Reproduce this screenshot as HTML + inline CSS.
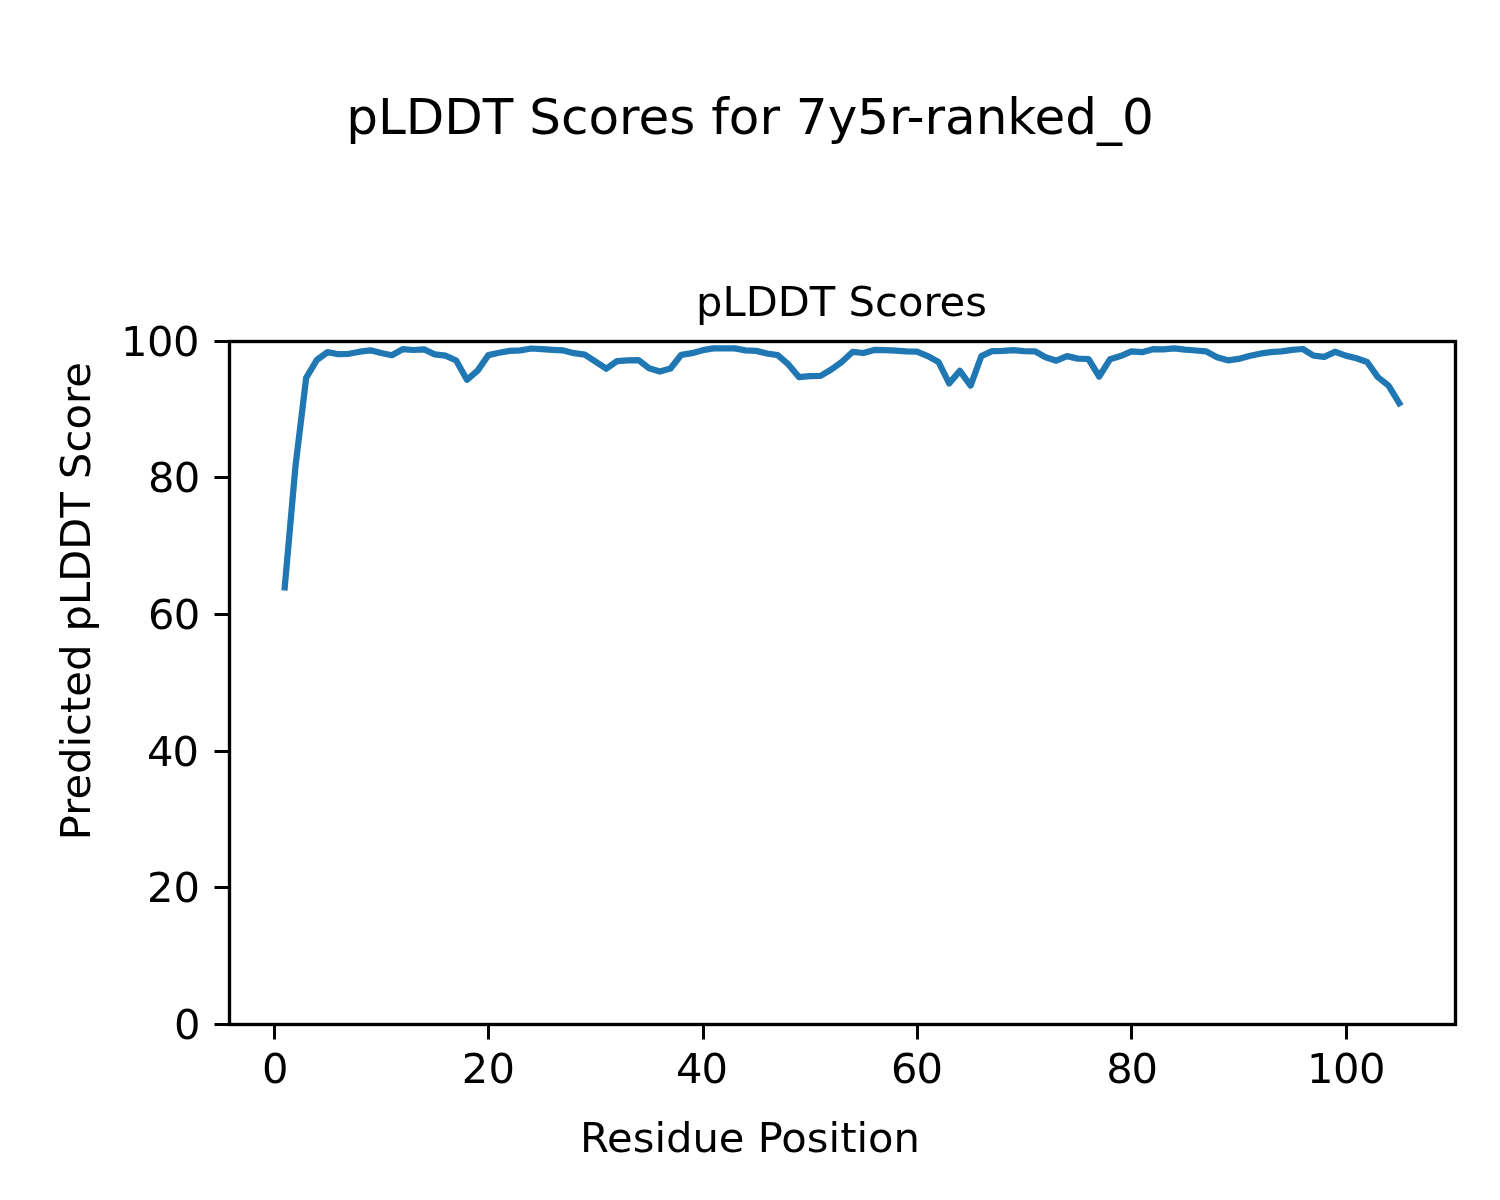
<!DOCTYPE html>
<html lang="en">
<head>
<meta charset="utf-8">
<title>pLDDT Scores for 7y5r-ranked_0</title>
<style>
html,body{margin:0;padding:0;background:#fff;}
body{width:1500px;height:1200px;overflow:hidden;}
svg{display:block;}
svg text{font-family:"DejaVu Sans","Liberation Sans",sans-serif;fill:#000;}
</style>
</head>
<body>
<svg width="1500" height="1200" viewBox="0 0 1500 1200">
<rect x="0" y="0" width="1500" height="1200" fill="#ffffff"/>
<polyline points="284.73,587.40 295.44,466.60 306.16,377.90 316.88,359.90 327.59,352.10 338.31,354.20 349.03,353.80 359.74,351.70 370.46,350.30 381.18,353.00 391.90,355.20 402.61,349.20 413.33,350.00 424.05,349.40 434.76,354.40 445.48,355.70 456.20,360.50 466.91,379.80 477.63,370.60 488.35,355.10 499.06,352.80 509.78,350.80 520.50,350.30 531.21,348.50 541.93,349.20 552.65,349.80 563.36,350.40 574.08,353.20 584.80,354.60 595.51,361.60 606.23,368.70 616.95,361.10 627.66,360.40 638.38,360.10 649.10,368.30 659.81,371.50 670.53,368.50 681.25,354.80 691.97,353.20 702.68,350.20 713.40,348.40 724.12,348.40 734.83,348.40 745.55,350.30 756.27,350.90 766.98,353.50 777.70,355.10 788.42,364.40 799.13,377.20 809.85,376.10 820.57,375.90 831.28,369.50 842.00,361.70 852.72,351.80 863.43,353.00 874.15,349.90 884.87,350.20 895.58,350.60 906.30,351.30 917.02,351.60 927.73,356.10 938.45,361.90 949.17,383.40 959.88,370.90 970.60,385.60 981.32,356.20 992.03,351.20 1002.75,350.90 1013.47,350.10 1024.19,351.20 1034.90,351.30 1045.62,357.20 1056.34,360.70 1067.05,356.10 1077.77,358.60 1088.49,359.00 1099.20,376.50 1109.92,359.30 1120.64,356.10 1131.35,351.30 1142.07,352.20 1152.79,349.20 1163.50,349.40 1174.22,348.30 1184.94,349.60 1195.65,350.50 1206.37,351.40 1217.09,357.20 1227.80,360.30 1238.52,358.90 1249.24,356.00 1259.95,353.70 1270.67,352.10 1281.39,351.40 1292.10,349.90 1302.82,349.00 1313.54,355.70 1324.26,356.80 1334.97,351.80 1345.69,355.60 1356.41,358.20 1367.12,362.00 1377.84,377.10 1388.56,385.60 1399.27,403.20" fill="none" stroke="#1f77b4" stroke-width="6.25" stroke-linejoin="round" stroke-linecap="square"/>
<path d="M274.50,1024.50v15.00M488.50,1024.50v15.00M703.50,1024.50v15.00M917.50,1024.50v15.00M1131.50,1024.50v15.00M1346.50,1024.50v15.00M229.50,1024.50h-15.00M229.50,887.50h-15.00M229.50,751.50h-15.00M229.50,614.50h-15.00M229.50,477.50h-15.00M229.50,341.50h-15.00" stroke="#000" stroke-width="3" fill="none"/>
<rect x="229.5" y="341.5" width="1226.0" height="683.0" fill="none" stroke="#000" stroke-width="3.333" stroke-linejoin="miter"/>
<text x="262.00" y="1083.1" font-size="41.667">0</text>
<text x="461.84 488.54" y="1083.1" font-size="41.667">20</text>
<text x="675.97 701.57" y="1083.1" font-size="41.667">40</text>
<text x="891.01 916.51" y="1083.1" font-size="41.667">60</text>
<text x="1106.14 1131.54" y="1083.1" font-size="41.667">80</text>
<text x="1306.88 1332.88 1358.88" y="1083.1" font-size="41.667">100</text>
<text x="174.05" y="1039.0" font-size="41.667">0</text>
<text x="146.98 173.58" y="902.4" font-size="41.667">20</text>
<text x="146.98 172.48" y="765.8" font-size="41.667">40</text>
<text x="147.98 173.65" y="629.2" font-size="41.667">60</text>
<text x="147.98 173.65" y="491.6" font-size="41.667">80</text>
<text x="120.98 146.98 172.98" y="356.0" font-size="41.667">100</text>
<text x="750" y="1152.2" text-anchor="middle" font-size="41.667">Residue Position</text>
<text transform="translate(89.5,601.2) rotate(-90)" text-anchor="middle" font-size="41.667">Predicted pLDDT Score</text>
<text x="841.50" y="316" text-anchor="middle" font-size="41.667">pLDDT Scores</text>
<text x="750" y="133.6" text-anchor="middle" font-size="50">pLDDT Scores for 7y5r-ranked_0</text>
</svg>
</body>
</html>
